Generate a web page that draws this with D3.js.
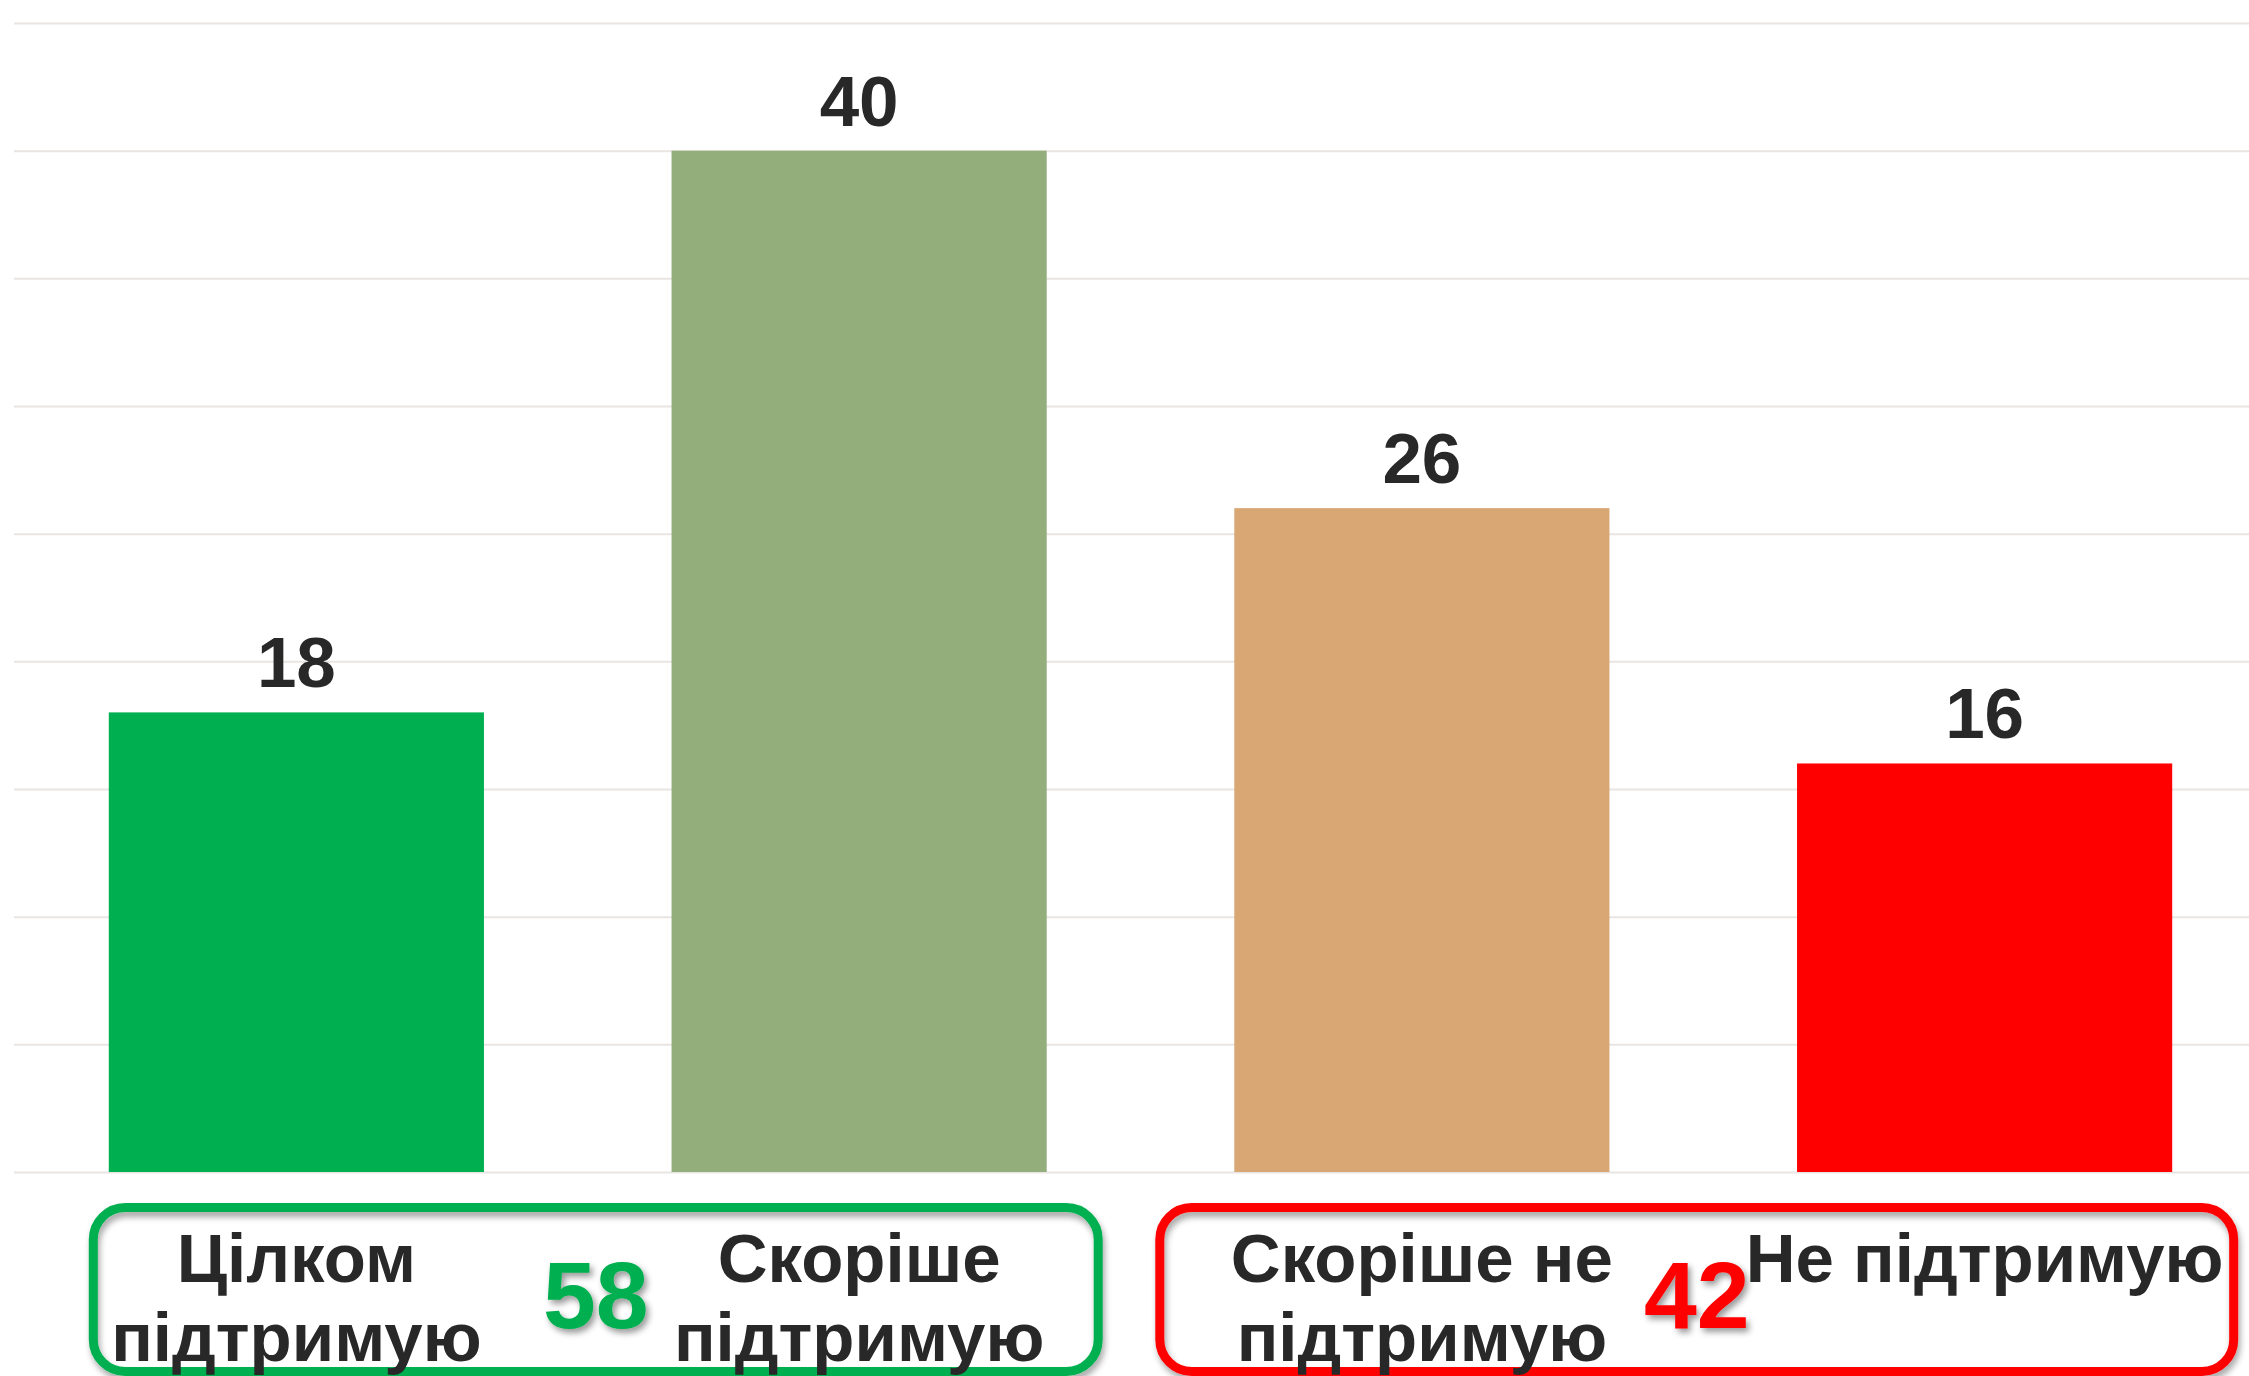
<!DOCTYPE html>
<html>
<head>
<meta charset="utf-8">
<script src="https://cdn.jsdelivr.net/npm/d3@7"></script>
<style>
  html, body { margin: 0; padding: 0; background: #fff; }
  svg { display: block; font-family: "Liberation Sans", Arial, sans-serif; }
  .grid line { stroke: #e9e5e2; stroke-width: 2; }
  .grid .domain { display: none; }
  .value-label { font-size: 71px; font-weight: bold; fill: #282828; text-anchor: middle; }
  .cat-label { font-size: 69px; font-weight: bold; fill: #282828; text-anchor: middle; }
  .total-label { font-size: 95px; font-weight: bold; text-anchor: middle; }
</style>
</head>
<body>
<svg id="chart"></svg>
<script>
// chart data
const categories = ['Цілком підтримую', 'Скоріше підтримую', 'Скоріше не підтримую', 'Не підтримую'];
const values = [18, 40, 26, 16];
const barColors = ['#00af50', '#93ad7b', '#d9a774', '#fe0000'];
const yTicks = [0, 5, 10, 15, 20, 25, 30, 35, 40, 45];

// summary groups shown in the rounded boxes under the bars
const groupTotals = [58, 42];
const groupMembers = [[0, 1], [2, 3]];
const groupColors = ['#00af50', '#fe0000'];

const width = 2249;
const height = 1376;

const svg = d3.select('#chart')
  .attr('width', width)
  .attr('height', height);

const defs = svg.append('defs');

defs.append('filter')
  .attr('id', 'box-shadow')
  .attr('x', '-5%').attr('y', '-10%')
  .attr('width', '110%').attr('height', '130%')
  .append('feDropShadow')
  .attr('dx', 2).attr('dy', 5)
  .attr('stdDeviation', 3)
  .attr('flood-color', '#000')
  .attr('flood-opacity', 0.35);

defs.append('filter')
  .attr('id', 'text-shadow')
  .attr('x', '-20%').attr('y', '-20%')
  .attr('width', '140%').attr('height', '140%')
  .append('feDropShadow')
  .attr('dx', 3).attr('dy', 4)
  .attr('stdDeviation', 3)
  .attr('flood-color', '#000')
  .attr('flood-opacity', 0.4);

// scales
const x = d3.scaleBand()
  .domain(categories)
  .range([15, 2266])
  .paddingInner(1 / 3)
  .paddingOuter(1 / 6);

const y = d3.scaleLinear()
  .domain([0, 45])
  .range([1172, 23]);

// horizontal gridlines, no tick labels
svg.append('g')
  .attr('class', 'grid')
  .attr('transform', 'translate(14,0)')
  .call(d3.axisRight(y)
    .tickValues(yTicks)
    .tickSize(width - 14)
    .tickFormat(''));

// bars
svg.append('g')
  .selectAll('rect')
  .data(values)
  .join('rect')
  .attr('x', (d, i) => x(categories[i]))
  .attr('y', d => y(d))
  .attr('width', x.bandwidth())
  .attr('height', d => y(0) - y(d))
  .attr('fill', (d, i) => barColors[i]);

// value labels above the bars
svg.append('g')
  .selectAll('text')
  .data(values)
  .join('text')
  .attr('class', 'value-label')
  .attr('x', (d, i) => x(categories[i]) + x.bandwidth() / 2)
  .attr('y', d => y(d) - 25)
  .text(d => d);

// rounded boxes around the category labels
const boxPad = [[20, 56], [79, 66]];
const boxes = svg.append('g');
groupMembers.forEach((members, g) => {
  const left = x(categories[members[0]]) - boxPad[g][0];
  const right = x(categories[members[members.length - 1]]) + x.bandwidth() + boxPad[g][1];
  boxes.append('rect')
    .attr('x', left + 4.5)
    .attr('y', 1207.5)
    .attr('width', right - left - 9)
    .attr('height', 164)
    .attr('rx', 32)
    .attr('fill', 'none')
    .attr('stroke', groupColors[g])
    .attr('stroke-width', 9)
    .attr('filter', 'url(#box-shadow)');

  boxes.append('text')
    .attr('class', 'total-label')
    .attr('x', (left + right) / 2)
    .attr('y', 1328)
    .attr('fill', groupColors[g])
    .attr('filter', 'url(#text-shadow)')
    .text(groupTotals[g]);
});

// category labels, word-wrapped under each bar
const maxLabelWidth = x.step() * 0.9;
const labels = svg.append('g')
  .selectAll('text')
  .data(categories)
  .join('text')
  .attr('class', 'cat-label')
  .attr('x', d => x(d) + x.bandwidth() / 2)
  .attr('y', 1282);

labels.each(function (d) {
  const text = d3.select(this);
  const cx = text.attr('x');
  const words = d.split(' ');
  let line = [];
  let lineNo = 0;
  let tspan = text.append('tspan').attr('x', cx).attr('y', 1282);
  words.forEach(word => {
    line.push(word);
    tspan.text(line.join(' '));
    if (tspan.node().getComputedTextLength() > maxLabelWidth && line.length > 1) {
      line.pop();
      tspan.text(line.join(' '));
      line = [word];
      lineNo += 1;
      tspan = text.append('tspan')
        .attr('x', cx)
        .attr('y', 1282 + lineNo * 79)
        .text(word);
    }
  });
});
</script>
</body>
</html>
